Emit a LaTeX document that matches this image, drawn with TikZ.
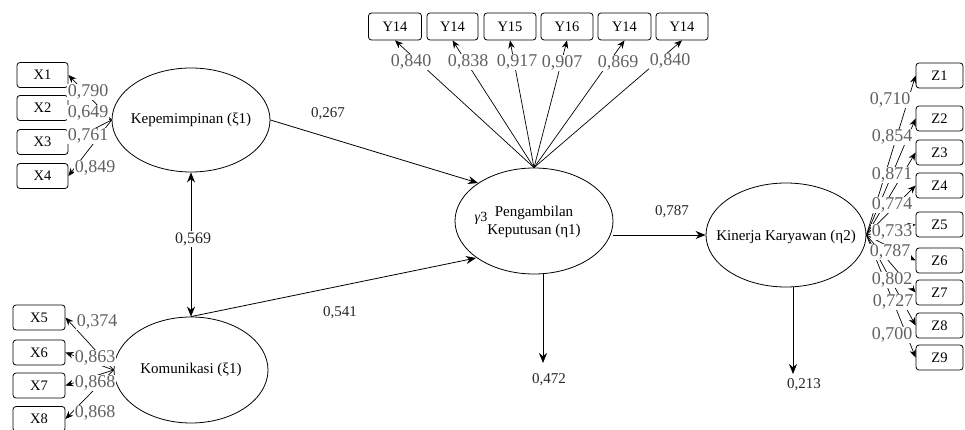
\documentclass[tikz,border=0pt]{standalone}
\usepackage{fontspec}
\setmainfont{Liberation Serif}
\usetikzlibrary{shapes.geometric,arrows.meta}
\begin{document}
\begin{tikzpicture}[x=1pt,y=-1pt,
  latent/.style={ellipse,draw,line width=0.8pt,minimum width=158pt,minimum height=104pt,inner sep=0pt},
  ind/.style={draw,rounded corners=3pt,line width=0.8pt,font=\fontsize{14.5}{16}\selectfont,inner sep=0pt,minimum height=25pt},
  ltxt/.style={font=\fontsize{15}{18}\selectfont,align=center,inner sep=0pt},
  load/.style={fill=white,inner sep=0.5pt,font=\fontsize{18}{20}\selectfont,text=black!62},
  pcoef/.style={fill=white,inner sep=1pt,font=\fontsize{15}{17}\selectfont,text=black!85},
  arr/.style={line width=0.8pt,-{Stealth[length=10pt,width=8pt]}},
  darr/.style={line width=0.8pt,{Stealth[length=10pt,width=8pt]}-{Stealth[length=10pt,width=8pt]}},
  larr/.style={line width=0.7pt,-{Stealth[length=8pt,width=6.5pt]}},
]
\useasboundingbox (0,0) rectangle (965,430);

% latent variables
\node[latent] (kep) at (191,120) {};
\node[ltxt] (kept) at (kep) {Kepemimpinan (ξ1)};
\node[latent,minimum width=154pt,minimum height=106pt] (kom) at (191,370) {};
\node[ltxt] (komt) at (kom) {Komunikasi (ξ1)};
\node[latent,minimum height=106pt] (pen) at (534,221) {};
\node[ltxt] (pent) at (534,222) {Pengambilan\\Keputusan (η1)};
\node[font=\fontsize{14}{14}\selectfont,inner sep=0pt] (gam) at (481,218) {\textit{γ}3};
\node[latent,minimum width=160pt] (kin) at (786,235) {};
\node[ltxt] (kint) at (786,237) {Kinerja Karyawan (η2)};

% indicator boxes X
\foreach \n/\y in {1/75,2/108,3/142,4/176}
  \node[ind,minimum width=51pt] (x\n) at (42.5,\y) {X\n};
\foreach \n/\y in {5/317.5,6/352.5,7/385.5,8/419}
  \node[ind,minimum width=52pt] (x\n) at (39,\y) {X\n};
% indicator boxes Y
\node[ind,minimum width=53pt,minimum height=27pt] (y1) at (395,26.5) {Y14};
\node[ind,minimum width=51pt,minimum height=27pt] (y2) at (452.5,26.5) {Y14};
\node[ind,minimum width=52pt,minimum height=27pt] (y3) at (510,26.5) {Y15};
\node[ind,minimum width=52pt,minimum height=27pt] (y4) at (567,26.5) {Y16};
\node[ind,minimum width=53pt,minimum height=27pt] (y5) at (624.5,26.5) {Y14};
\node[ind,minimum width=52pt,minimum height=27pt] (y6) at (682,26.5) {Y14};
% indicator boxes Z
\foreach \n/\y in {1/75.5,2/118.5,3/152.5,4/185.5,5/224.5,6/260.5,7/292.5,8/325.5,9/357.5}
  \node[ind,minimum width=47pt] (z\n) at (939.5,\y) {Z\n};

% structural paths
\draw[arr] (kep.east) -- (478,183) coordinate (penin1);
\draw[arr] (kom.north) -- (476,258) coordinate (penin2);
\draw[darr] (kep.south) -- (kom.north);
\draw[arr] (pen.east |- 0,235) -- (kin.west);
\coordinate (penb) at (543,274);
\coordinate (pene) at (543,363);
\draw[arr] (penb) -- (pene);
\coordinate (kinb) at (793,287);
\coordinate (kine) at (793,374);
\draw[arr] (kinb) -- (kine);

% loadings
\foreach \n in {1,...,6} \draw[larr] (pen.north) -- (y\n.south);
\foreach \n in {1,...,4} \draw[larr] (kep.west) -- (x\n.east);
\foreach \n in {5,...,8} \draw[larr] (kom.west) -- (x\n.east);
\foreach \n in {1,...,9} \draw[larr] (kin.east) -- (z\n.west);

% path coefficient labels
\node[pcoef] (c1) at (328,114) {0,267};
\node[pcoef] (c2) at (340,313) {0,541};
\node[pcoef,font=\fontsize{16}{18}\selectfont] (c3) at (193,239) {0,569};
\node[pcoef] (c4) at (672,212) {0,787};
\node[pcoef] (c5) at (549,380) {0,472};
\node[pcoef] (c6) at (804,385) {0,213};

% loading labels Y
\node[load] (ly1) at (411,62) {0,840};
\node[load] (ly2) at (468,62) {0,838};
\node[load] (ly3) at (517,62) {0,917};
\node[load] (ly4) at (562,63) {0,907};
\node[load] (ly5) at (618,63) {0,869};
\node[load] (ly6) at (670,61) {0,840};
% loading labels X
\node[load] (lx1) at (88,92) {0,790};
\node[load] (lx2) at (88,113) {0,649};
\node[load] (lx3) at (88,136) {0,761};
\node[load] (lx4) at (95,168) {0,849};
\node[load] (lx5) at (97,322) {0,374};
\node[load] (lx6) at (95,358) {0,863};
\node[load] (lx7) at (95,383) {0,868};
\node[load] (lx8) at (95,413) {0,868};
% loading labels Z
\node[load] (lz1) at (890,100) {0,710};
\node[load] (lz2) at (892,137) {0,854};
\node[load] (lz3) at (892,175) {0,871};
\node[load] (lz4) at (892,205) {0,774};
\node[load] (lz5) at (892,232) {0,733};
\node[load] (lz6) at (890,252) {0,787};
\node[load] (lz7) at (892,280) {0,802};
\node[load] (lz8) at (893,302) {0,727};
\node[load] (lz9) at (892,335) {0,700};
\end{tikzpicture}
\end{document}
